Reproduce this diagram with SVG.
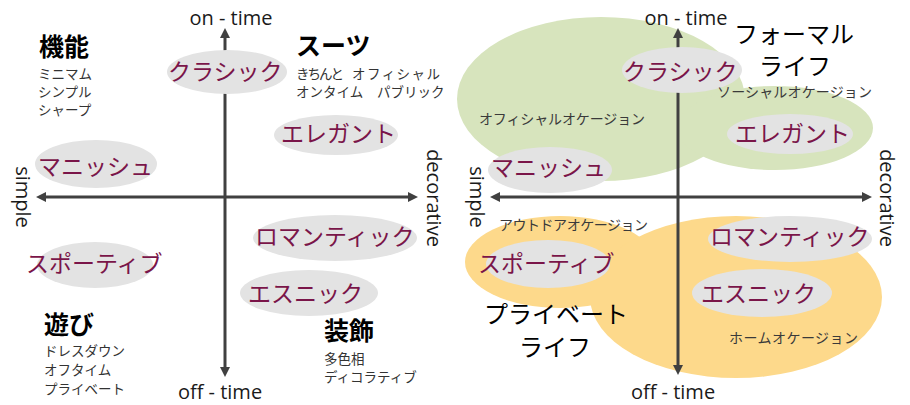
<svg xmlns="http://www.w3.org/2000/svg" width="910" height="405" viewBox="0 0 910 405">
<style>
.ax{stroke:#404040;stroke-width:3;fill:none}
.axl{font-family:"Open Sans","Noto Sans",sans-serif;font-size:20px;fill:#1a1a1a}
.pill{fill:#e3e3e3}
.lbl{font-family:"Noto Sans CJK JP",sans-serif;font-size:23px;fill:#7a1549}
.hd{font-family:"Noto Sans CJK JP",sans-serif;font-size:25px;font-weight:700;fill:#000}
.sm{font-family:"Noto Sans CJK JP",sans-serif;font-size:13.5px;fill:#333}
.big{font-family:"Noto Sans CJK JP",sans-serif;font-size:24px;fill:#000}
.occ{font-family:"Noto Sans CJK JP",sans-serif;font-size:14px;fill:#3a3a3a}
.green{fill:#d7e4bd}
.orange{fill:#fdd98b}
</style>
<defs>
<marker id="arr" viewBox="0 0 10 10" markerUnits="userSpaceOnUse" markerWidth="10" markerHeight="10" refX="2" refY="5" orient="auto">
<path d="M0,0 L10,5 L0,10 z" fill="#404040"/>
</marker>
</defs>

<!-- right panel areas -->
<g id="formal-life-area">
<ellipse class="green" cx="601" cy="99" rx="144" ry="82"/>
<ellipse class="green" cx="775" cy="128" rx="98" ry="42"/>
</g>
<g id="private-life-area">
<ellipse class="orange" cx="560" cy="262" rx="95" ry="46"/>
<ellipse class="orange" cx="736" cy="297" rx="146" ry="81"/>
</g>

<!-- connectors: axes -->
<g id="axes">
<line class="ax" x1="225" y1="197" x2="225" y2="36" marker-end="url(#arr)"/>
<line class="ax" x1="225" y1="197" x2="225" y2="369" marker-end="url(#arr)"/>
<line class="ax" x1="225" y1="197" x2="44" y2="197" marker-end="url(#arr)"/>
<line class="ax" x1="225" y1="197" x2="410" y2="197" marker-end="url(#arr)"/>
<line class="ax" x1="678" y1="197" x2="678" y2="36" marker-end="url(#arr)"/>
<line class="ax" x1="678" y1="197" x2="678" y2="367" marker-end="url(#arr)"/>
<line class="ax" x1="678" y1="197" x2="498" y2="197" marker-end="url(#arr)"/>
<line class="ax" x1="678" y1="197" x2="864" y2="197" marker-end="url(#arr)"/>
</g>

<!-- axis labels -->
<g id="axis-labels-left">
<text class="axl" x="231" y="25" text-anchor="middle">on - time</text>
<text class="axl" x="220" y="399" text-anchor="middle">off - time</text>
<text class="axl" transform="translate(16,197) rotate(90)" text-anchor="middle">simple</text>
<text class="axl" transform="translate(427,198) rotate(90)" text-anchor="middle">decorative</text>
</g>
<g id="axis-labels-right">
<text class="axl" x="686" y="25" text-anchor="middle">on - time</text>
<text class="axl" x="673" y="399" text-anchor="middle">off - time</text>
<text class="axl" transform="translate(470,197) rotate(90)" text-anchor="middle">simple</text>
<text class="axl" transform="translate(880,198) rotate(90)" text-anchor="middle">decorative</text>
</g>

<!-- left panel nodes -->
<g id="L-classic"><ellipse class="pill" cx="227" cy="72" rx="60" ry="22"/><text class="lbl" x="168" y="80">クラシック</text></g>
<g id="L-elegant"><ellipse class="pill" cx="336" cy="135" rx="62" ry="20"/><text class="lbl" x="281" y="142">エレガント</text></g>
<g id="L-mannish"><ellipse class="pill" cx="96" cy="164" rx="61" ry="24"/><text class="lbl" x="38" y="175">マニッシュ</text></g>
<g id="L-sportive"><ellipse class="pill" cx="95" cy="265" rx="58" ry="23"/><text class="lbl" x="26" y="272">スポーティブ</text></g>
<g id="L-romantic"><ellipse class="pill" cx="335" cy="238" rx="82" ry="23"/><text class="lbl" x="255" y="245">ロマンティック</text></g>
<g id="L-ethnic"><ellipse class="pill" cx="309" cy="293" rx="69" ry="23"/><text class="lbl" x="248" y="302">エスニック</text></g>

<g id="L-kinou"><text class="hd" x="39" y="56">機能</text>
<text class="sm" x="38" y="79">ミニマム</text><text class="sm" x="38" y="97">シンプル</text><text class="sm" x="38" y="115">シャープ</text></g>
<g id="L-suits"><text class="hd" x="296" y="55">スーツ</text>
<text class="sm" x="296" y="79" textLength="48">きちんと</text><text class="sm" x="352" y="79" textLength="88">オフィシャル</text>
<text class="sm" x="296" y="97">オンタイム</text><text class="sm" x="377" y="97">パブリック</text></g>
<g id="L-asobi"><text class="hd" x="44" y="334" font-size="26">遊び</text>
<text class="sm" x="44" y="356">ドレスダウン</text><text class="sm" x="44" y="375">オフタイム</text><text class="sm" x="44" y="394">プライベート</text></g>
<g id="L-soushoku"><text class="hd" x="324" y="340" font-size="26">装飾</text>
<text class="sm" x="324" y="364">多色相</text><text class="sm" x="324" y="382">ディコラティブ</text></g>

<!-- right panel nodes -->
<g id="R-classic"><ellipse class="pill" cx="682" cy="70" rx="60" ry="23"/><text class="lbl" x="623" y="80">クラシック</text></g>
<g id="R-elegant"><ellipse class="pill" cx="790" cy="134" rx="63" ry="20"/><text class="lbl" x="735" y="142">エレガント</text></g>
<g id="R-mannish"><ellipse class="pill" cx="550" cy="170" rx="62" ry="23"/><text class="lbl" x="491" y="176">マニッシュ</text></g>
<g id="R-sportive"><ellipse class="pill" cx="548" cy="264" rx="62" ry="24"/><text class="lbl" x="478" y="272">スポーティブ</text></g>
<g id="R-romantic"><ellipse class="pill" cx="790" cy="239" rx="82" ry="23"/><text class="lbl" x="710" y="245">ロマンティック</text></g>
<g id="R-ethnic"><ellipse class="pill" cx="762" cy="293" rx="70" ry="24"/><text class="lbl" x="701" y="302">エスニック</text></g>

<g id="R-formal"><text class="big" x="794" y="43" text-anchor="middle">フォーマル</text><text class="big" x="795" y="75" text-anchor="middle">ライフ</text></g>
<g id="R-private"><text class="big" x="556" y="323" text-anchor="middle">プライベート</text><text class="big" x="555" y="356" text-anchor="middle">ライフ</text></g>
<g id="R-occasions">
<text class="occ" x="717" y="97" textLength="155">ソーシャルオケージョン</text>
<text class="occ" x="479" y="124" textLength="166">オフィシャルオケージョン</text>
<text class="occ" x="499" y="230" textLength="149">アウトドアオケージョン</text>
<text class="occ" x="729" y="343" textLength="129">ホームオケージョン</text>
</g>
</svg>
